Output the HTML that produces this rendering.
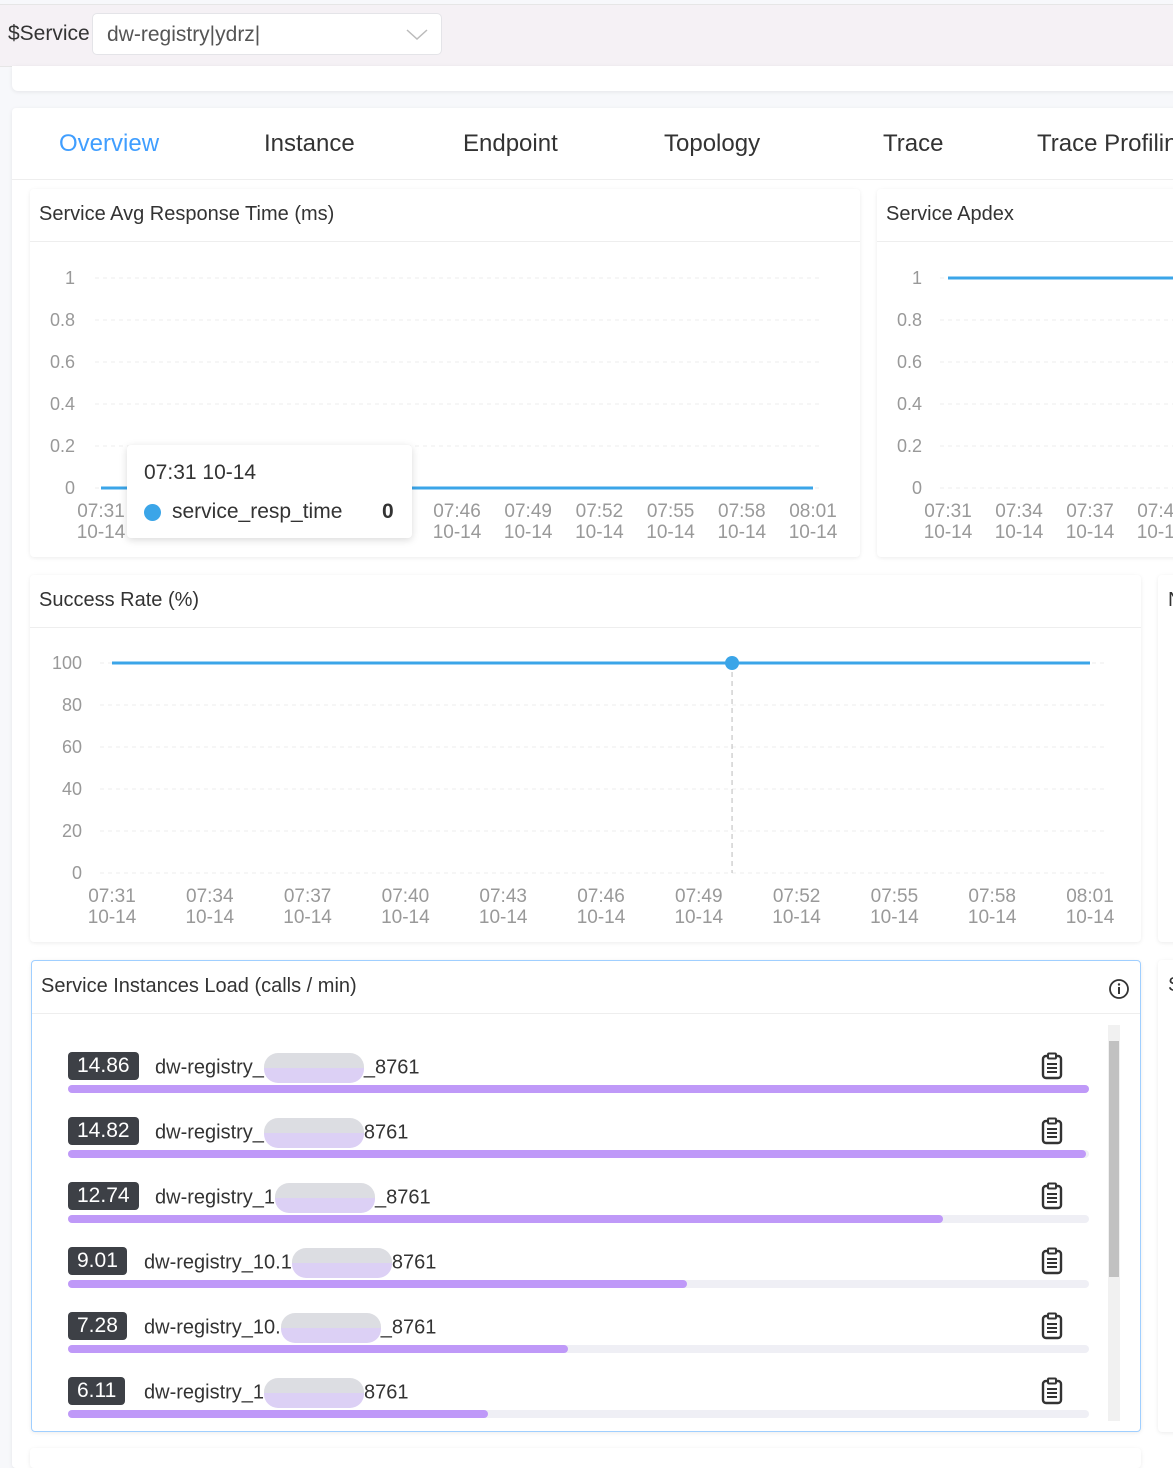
<!DOCTYPE html>
<html><head><meta charset="utf-8">
<style>
body{margin:0;width:1173px;height:1460px;overflow:hidden;background:#f7f8fb;font-family:"Liberation Sans",sans-serif;position:relative}
.abs{position:absolute}
.card{position:absolute;background:#fff;border-radius:4px;box-shadow:0 1px 4px rgba(0,0,0,.08)}
.title{position:absolute;left:9px;top:14px;font-size:20px;color:#333}
.hdr{position:absolute;left:0;right:0;top:52px;border-top:1px solid #eee}
svg text{font-family:"Liberation Sans",sans-serif}
.row{position:absolute;left:36px;width:1022px;height:60px}
.badge{position:absolute;left:0;top:0;height:28px;padding:0 9px;background:#3d4046;color:#fff;border-radius:4px;font-size:21px;line-height:28px}
.nm{position:absolute;top:1px;font-size:20px;color:#333;white-space:nowrap}
.blob{display:inline-block;width:100px;height:30px;vertical-align:middle;background:linear-gradient(#dcdde2 50%,#dcd0f5 50%);border-radius:14px}
.track{position:absolute;left:0;top:33px;width:1021px;height:8px;background:#efeff5;border-radius:4px}
.fill{height:8px;background:#bf99f8;border-radius:4px}
.clip{position:absolute;left:973px;top:0;width:22px;height:28px}
</style></head><body>
<div class="abs" style="left:0;top:4px;width:1173px;height:61px;background:#f5f1f5;border-top:1px solid #e6e6e6;border-bottom:1px solid #e6e6e6">
 <div class="abs" style="left:8px;top:17px;font-size:21px;color:#333">$Service</div>
 <div class="abs" style="left:92px;top:8px;width:348px;height:40px;background:#fff;border:1px solid #e4e4e8;border-radius:5px">
  <span class="abs" style="left:14px;top:9px;font-size:21px;color:#555">dw-registry|ydrz|</span>
  <svg class="abs" style="left:312px;top:12px" width="24" height="16"><path d="M2 4l10 9 10-9" fill="none" stroke="#bbb" stroke-width="1.5"/></svg>
 </div>
</div>
<div class="card" style="left:12px;top:66px;width:1170px;height:25px;border-radius:0 0 6px 6px"></div>
<div class="card" style="left:12px;top:108px;width:1170px;height:1360px">
 <div class="abs" style="left:0;right:0;top:71px;border-top:1px solid #eee"></div>
 <div class="abs" style="left:47px;top:22px;font-size:24px;color:#409eff">Overview</div>
 <div class="abs" style="left:252px;top:22px;font-size:24px;color:#333">Instance</div>
 <div class="abs" style="left:451px;top:22px;font-size:24px;color:#333">Endpoint</div>
 <div class="abs" style="left:652px;top:22px;font-size:24px;color:#333">Topology</div>
 <div class="abs" style="left:871px;top:22px;font-size:24px;color:#333">Trace</div>
 <div class="abs" style="left:1025px;top:22px;font-size:24px;color:#333;white-space:nowrap">Trace Profiling</div>
</div>

<div class="card" style="left:30px;top:189px;width:830px;height:368px">
 <div class="title">Service Avg Response Time (ms)</div><div class="hdr"></div>
</div>
<div class="card" style="left:877px;top:189px;width:310px;height:368px">
 <div class="title">Service Apdex</div><div class="hdr"></div>
</div>
<div class="card" style="left:30px;top:575px;width:1111px;height:367px">
 <div class="title">Success Rate (%)</div><div class="hdr"></div>
</div>
<div class="card" style="left:1158px;top:575px;width:30px;height:367px"><div class="title" style="left:10px">N</div></div>
<div class="card" style="left:1158px;top:960px;width:30px;height:472px"><div class="title" style="left:10px">S</div></div>
<div class="card" style="left:30px;top:1448px;width:1111px;height:20px"></div>

<svg class="abs" id="charts" style="left:0;top:0" width="1173" height="960"></svg>

<div class="abs" style="left:127px;top:445px;width:285px;height:93px;background:#fff;border-radius:4px;box-shadow:0 2px 8px rgba(0,0,0,.15)">
 <div class="abs" style="left:17px;top:16px;font-size:21px;color:#333">07:31 10-14</div>
 <div class="abs" style="left:17px;top:59px;width:17px;height:17px;border-radius:50%;background:#3ba5e8"></div>
 <div class="abs" style="left:45px;top:55px;font-size:21px;color:#333">service_resp_time</div>
 <div class="abs" style="left:255px;top:55px;font-size:21px;color:#333;font-weight:bold">0</div>
</div>

<div class="card" style="left:31px;top:960px;width:1108px;height:470px;border:1px solid #a0cfff">
 <div class="title">Service Instances Load (calls / min)</div>
 <svg class="abs" style="left:1076px;top:17px" width="22" height="22"><circle cx="11" cy="11" r="9" fill="none" stroke="#333" stroke-width="1.8"/><rect x="10" y="9" width="2" height="7" fill="#333"/><circle cx="11" cy="6.5" r="1.2" fill="#333"/></svg>
 <div class="hdr"></div>
 <div id="rows"></div>
 <div class="abs" style="left:1076px;top:64px;width:12px;height:396px;background:#f1f1f1">
  <div class="abs" style="left:1px;top:16px;width:10px;height:236px;background:#c1c1c1"></div>
 </div>
</div>

<script>
const rtLabels=["07:31","07:34","07:37","07:40","07:43","07:46","07:49","07:52","07:55","07:58","08:01"];
const rtValues=[0,0,0,0,0,0,0,0,0,0,0];
const rtTicks=[0,0.2,0.4,0.6,0.8,1];
const apLabels=["07:31","07:34","07:37","07:40"];
const apValues=[1,1,1,1,1];
const srValues=[100,100,100,100,100,100,100,100,100,100,100];
const srTicks=[0,20,40,60,80,100];
const srLabels=rtLabels;
const hoverIndex=[6.34];
const loadValues=[14.86,14.82,12.74,9.01,7.28,6.11];
const loadPrefix=["dw-registry_","dw-registry_","dw-registry_1","dw-registry_10.1","dw-registry_10.","dw-registry_1"];
const loadSuffix=["_8761","8761","_8761","8761","_8761","8761"];

const svg=document.getElementById('charts');
const NS='http://www.w3.org/2000/svg';
function mk(t,a){const e=document.createElementNS(NS,t);for(const k in a)e.setAttribute(k,a[k]);svg.appendChild(e);return e;}
function chart(o){
 const ys=v=>o.y0-(v-o.ymin)/(o.ymax-o.ymin)*(o.y0-o.y1);
 const xs=i=>o.x0+i*o.step;
 o.ticks.forEach(t=>{
  const g=mk('line',{x1:o.gx0,x2:o.gx1,y1:ys(t),y2:ys(t),stroke:'#eee','stroke-dasharray':'4 4'});
  
  
  const tx=mk('text',{x:o.lx,y:ys(t)+6,'text-anchor':'end','font-size':18,fill:'#999'});tx.textContent=String(t);
  
  
 });
 o.labels.forEach((l,i)=>{
  const a=mk('text',{x:xs(i),y:o.y0+29,'text-anchor':'middle','font-size':19,fill:'#999'});a.textContent=l;
  
  
  const b=mk('text',{x:xs(i),y:o.y0+50,'text-anchor':'middle','font-size':19,fill:'#999'});b.textContent='10-14';
  
  
 });
 const p=mk('polyline',{points:o.values.map((v,i)=>xs(i)+','+ys(v)).join(' '),fill:'none',stroke:'#3ba5e8','stroke-width':3});
 
 
 return {xs,ys};
}
chart({name:'resp-time-line',x0:101,step:71.2,y0:488,y1:278,ymin:0,ymax:1,ticks:rtTicks,labels:rtLabels,values:rtValues,gx0:95,gx1:820,lx:75});
chart({name:'apdex-line',x0:948,step:71,y0:488,y1:278,ymin:0,ymax:1,ticks:rtTicks,labels:apLabels,values:apValues,gx0:940,gx1:1173,lx:922});
const sr=chart({name:'success-rate-line',x0:112,step:97.8,y0:873,y1:663,ymin:0,ymax:100,ticks:srTicks,labels:srLabels,values:srValues,gx0:100,gx1:1105,lx:82});
const hx=sr.xs(hoverIndex[0]);
const vl=mk('line',{x1:hx,x2:hx,y1:sr.ys(100),y2:873,stroke:'#bbb','stroke-dasharray':'5 4'});


const dot=mk('circle',{cx:hx,cy:sr.ys(100),r:7,fill:'#3ba5e8'});



const rows=document.getElementById('rows');
const max=Math.max(...loadValues);
loadValues.forEach((v,i)=>{
 const r=document.createElement('div');r.className='row';r.style.top=(91+i*65)+'px';
 
 
 const nmLeft=v>=10?87:76;
 r.innerHTML='<div class="badge">'+v.toFixed(2)+'</div><div class="nm" style="left:'+nmLeft+'px">'+loadPrefix[i]+'<span class="blob"></span>'+loadSuffix[i]+'</div><div class="track"><div class="fill" style="width:'+(v/max*1021)+'px"></div></div><svg class="clip" viewBox="0 0 22 28"><rect x="2" y="4" width="18" height="22" rx="3" fill="none" stroke="#333" stroke-width="2.4"/><rect x="7" y="1.5" width="8" height="5" rx="1" fill="#fff" stroke="#333" stroke-width="2"/><path d="M6 12h10M6 16h10M6 20h10" stroke="#333" stroke-width="2"/></svg>';
 rows.appendChild(r);
});
</script>
</body></html>
